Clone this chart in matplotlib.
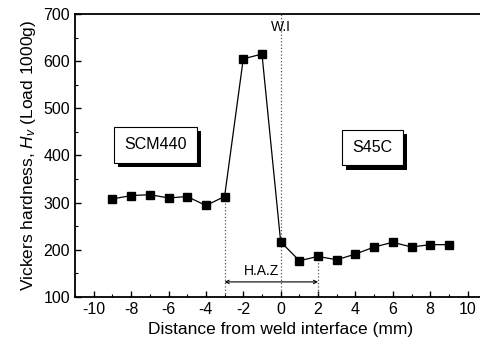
import matplotlib
matplotlib.use("Agg")
import matplotlib.pyplot as plt
import matplotlib.patheffects as pe
from matplotlib.ticker import MultipleLocator

# ---------------------------------------------------------------- data
distance = [-9, -8, -7, -6, -5, -4, -3, -2, -1, 0, 1, 2, 3, 4, 5, 6, 7, 8, 9]
hardness = [308, 315, 317, 310, 313, 294, 313, 605, 615, 217, 177, 186, 179,
            191, 206, 216, 206, 211, 211]
haz_start, haz_end = -3, 2
haz_left_hv = 313
haz_right_hv = 186

plt.rcParams.update({
    "font.family": ["Liberation Sans", "DejaVu Sans"],
    "font.size": 10.5,
    "mathtext.fontset": "custom",
    "mathtext.it": "Liberation Sans:italic",
    "mathtext.rm": "Liberation Sans",
    "axes.unicode_minus": False,
    "xtick.direction": "in",
    "ytick.direction": "in",
    "xtick.labelsize": 11.5,
    "ytick.labelsize": 11.5,
})

fig = plt.figure(figsize=(4.81, 3.41), dpi=100)
ax = fig.add_axes([0.156, 0.129, 0.855, 0.830])

ax.plot(distance, hardness, color="black", lw=0.9, marker="s", ms=6,
        mfc="black", mec="black", zorder=3)

# weld interface and HAZ limits
ax.axvline(0, color="#555555", lw=0.9, ls=":", zorder=1)
ax.plot([haz_start, haz_start], [100, haz_left_hv], color="#555555", lw=0.9, ls=":")
ax.plot([haz_end, haz_end], [100, haz_right_hv], color="#555555", lw=0.9, ls=":")
ax.annotate("", xy=(haz_start, 132), xytext=(haz_end, 132),
            arrowprops=dict(arrowstyle="<->", lw=0.8, color="black",
                            shrinkA=0, shrinkB=0, mutation_scale=6))
ax.text(-1.0, 140, "H.A.Z", ha="center", va="bottom", fontsize=10)
ax.text(0, 658, "W.I", ha="center", va="bottom", fontsize=10)

for x, y, label in [(-6.7, 423, "SCM440"), (4.9, 417, "S45C")]:
    t = ax.text(x, y, label, ha="center", va="center", fontsize=11.5,
                bbox=dict(boxstyle="square,pad=0.65", fc="white", ec="black", lw=0.8))
    t.get_bbox_patch().set_path_effects([
        pe.withSimplePatchShadow(offset=(3, -3), shadow_rgbFace="black", alpha=1)])

ax.set_xlim(-11, 11)
ax.set_ylim(100, 700)
ax.xaxis.set_major_locator(MultipleLocator(2))
ax.xaxis.set_minor_locator(MultipleLocator(1))
ax.yaxis.set_major_locator(MultipleLocator(100))
ax.yaxis.set_minor_locator(MultipleLocator(50))
ax.tick_params(which="major", length=4, width=1)
ax.tick_params(which="minor", length=2, width=0.8)
for s in ax.spines.values():
    s.set_linewidth(1.3)

ax.set_xlabel("Distance from weld interface (mm)", fontsize=12.5)
ax.set_ylabel("Vickers hardness, $H_v$ (Load 1000g)", fontsize=12.5)

fig.savefig("out.png", dpi=100)
